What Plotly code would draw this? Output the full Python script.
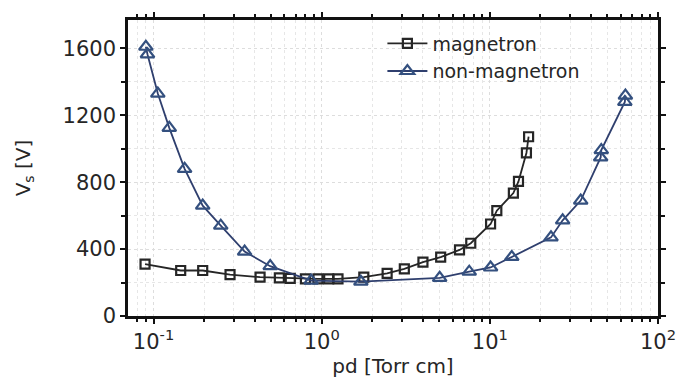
import plotly.graph_objects as go

# Breakdown voltage vs. pressure-distance product
mag_pd = [0.089, 0.145, 0.196, 0.285, 0.43, 0.56, 0.65, 0.80, 0.95, 1.10, 1.25,
          1.78, 2.45, 3.1, 4.0, 5.1, 6.6, 7.7, 10.1, 11.0, 13.8, 14.8, 16.5, 17.0]
mag_vs = [310, 272, 272, 248, 232, 228, 225, 222, 222, 222, 222,
          232, 255, 282, 322, 352, 395, 435, 550, 630, 735, 805, 975, 1072]

non_pd = [0.090, 0.092, 0.106, 0.124, 0.153, 0.196, 0.251, 0.348, 0.494, 0.865,
          1.71, 5.03, 7.54, 10.1, 13.5, 23.1, 27.1, 34.7, 45.6, 46.0, 63.5, 64.0]
non_vs = [1610, 1565, 1330, 1125, 880, 660, 540, 385, 298, 212,
          205, 228, 265, 290, 353, 470, 572, 690, 948, 992, 1280, 1318]

x_tickvals = [0.1, 1, 10, 100]
x_ticktext = ["10<sup>-1</sup>", "10<sup>0</sup>", "10<sup>1</sup>", "10<sup>2</sup>"]
x_minorvals = [m * d for d in (0.01, 0.1, 1, 10) for m in range(2, 10)]
y_tickvals = [0, 400, 800, 1200, 1600]

FONT = "DejaVu Sans"
TXT = "#262626"

fig = go.Figure()
fig.add_trace(go.Scatter(
    x=mag_pd, y=mag_vs, name="magnetron", mode="lines+markers",
    line=dict(color="#262626", width=1.8),
    marker=dict(symbol="square-open", size=9, color="#262626", line=dict(width=2.2)),
))
fig.add_trace(go.Scatter(
    x=non_pd, y=non_vs, name="non-magnetron", mode="lines+markers",
    line=dict(color="#2f3f6e", width=1.8),
    marker=dict(symbol="triangle-up-open", size=12, color="#34507f", line=dict(width=2.2)),
))

axis_common = dict(
    showline=True, linecolor="#111111", linewidth=2.5, mirror="ticks",
    ticks="outside", ticklen=5, tickwidth=2, tickcolor="#111111",
    tickfont=dict(family=FONT, size=21, color=TXT),
    showgrid=True, gridcolor="#dddddd", griddash="dot", gridwidth=1,
    zeroline=False,
)

fig.update_xaxes(
    type="log", range=[-1.152, 2.0],
    tickvals=x_tickvals, ticktext=x_ticktext,
    minor=dict(tickmode="array", tickvals=x_minorvals, ticks="outside", ticklen=3,
               tickcolor="#111111", showgrid=True, gridcolor="#e6e6e6", griddash="dot"),
    title=dict(text="pd [Torr cm]", font=dict(family=FONT, size=20, color=TXT), standoff=5),
    **axis_common,
)
fig.update_yaxes(
    range=[0, 1770], tickvals=y_tickvals,
    minor=dict(dtick=200, ticks="outside", ticklen=4, tickcolor="#111111",
               showgrid=True, gridcolor="#e6e6e6", griddash="dot"),
    title=dict(text="V<sub>s</sub> [V]", font=dict(family=FONT, size=20, color=TXT), standoff=27),
    **axis_common,
)

fig.update_layout(
    width=688, height=385,
    margin=dict(l=128, r=22, t=19, b=64),
    paper_bgcolor="white", plot_bgcolor="white",
    showlegend=True,
    legend=dict(x=0.48, y=0.985, xanchor="left", yanchor="top",
                bgcolor="rgba(0,0,0,0)", font=dict(family=FONT, size=19, color=TXT),
                tracegroupgap=0, itemwidth=40),
)

fig.write_html("out.html")
